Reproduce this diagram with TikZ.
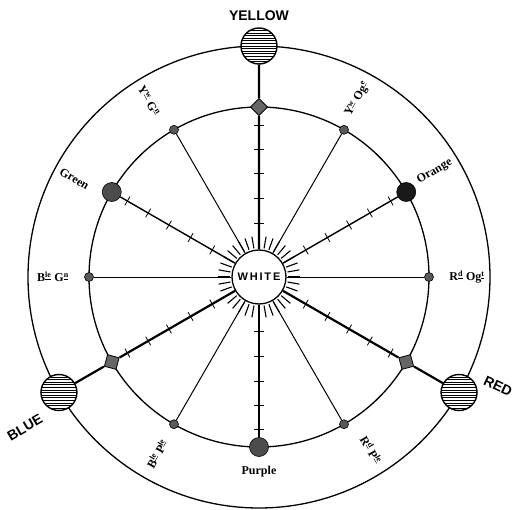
\documentclass[tikz,border=0pt]{standalone}
\usepackage{fontspec}
\newfontfamily\capsfont{Liberation Sans}
\newfontfamily\mixfont{Liberation Serif}
\usetikzlibrary{positioning}
\newcommand\supl[1]{\textsuperscript{\underline{#1}}}

\begin{document}
\begin{tikzpicture}[x=1pt,y=1pt,
  ring/.style={line width=1.3pt},
  spoke/.style={line width=1pt},
  tickspoke/.style={line width=1.4pt},
  mainspoke/.style={line width=2.2pt},
  tickmark/.style={line width=0.8pt},
  ray/.style={line width=1.1pt},
  hatched/.style={circle,draw,line width=1.4pt,fill=white,inner sep=0pt,minimum size=36pt,
    path picture={\foreach \k in {-6,...,6}
      \draw[line width=0.7pt] ([yshift=\k*2.6pt]path picture bounding box.west) -- ([yshift=\k*2.6pt]path picture bounding box.east);}},
  smalldot/.style={circle,draw,line width=0.6pt,fill=black!65,inner sep=0pt,minimum size=9pt},
  bigdot/.style={circle,draw,line width=0.6pt,fill=black!70,inner sep=0pt,minimum size=19pt},
  mixbox/.style={rectangle,draw,line width=0.8pt,fill=black!60,inner sep=0pt,minimum size=12pt},
  huename/.style={font=\capsfont\bfseries\fontsize{14}{14}\selectfont,inner sep=1pt},
  mixname/.style={font=\mixfont\bfseries\fontsize{12}{12}\selectfont,inner sep=1pt}]
\useasboundingbox (-259,-232) rectangle (255,277);

\draw[ring] (0,0) circle (170);
\draw[ring] (0,0) circle (231);
\foreach \a in {0,10,...,350} \draw[ray] (\a:29) -- (\a:41);

\node[circle,draw,line width=1.3pt,fill=white,minimum size=54pt,inner sep=0pt,
  font=\capsfont\bfseries\fontsize{11}{11}\selectfont] (W) at (0,0) {W\,H\,I\,T\,E};

\node[mixbox,rotate=45] (mY) at (90:170) {};
\node[mixbox,rotate=15] (mR) at (-30:170) {};
\node[mixbox,rotate=255] (mB) at (210:170) {};
\node[bigdot,fill=black!90] (Og) at (30:170) {};
\node[bigdot] (Gn) at (150:170) {};
\node[bigdot] (Pl) at (270:170) {};
\foreach \a/\n in {0/RO,60/YO,120/YG,180/BG,240/BP,300/RP}
  \node[smalldot] (\n) at (\a:170) {};

\node[hatched] (Y) at (90:231) {};
\node[hatched] (R) at (-30:231) {};
\node[hatched] (B) at (210:231) {};

\foreach \n in {RO,YO,YG,BG,BP,RP} \draw[spoke] (W) -- (\n);
\foreach \n in {Og,Gn,Pl} \draw[tickspoke] (W) -- (\n);
\foreach \n in {mY,mR,mB} \draw[mainspoke] (W) -- (\n);
\draw[mainspoke] (mY) -- (Y);
\draw[mainspoke] (mR) -- (R);
\draw[mainspoke] (mB) -- (B);

\foreach \a in {90,30,-30,-90,-150,150}
  \foreach \r in {54,79,104,128,152}
    \draw[tickmark,rotate=\a] (\r,-5) -- (\r,5);

\node[huename,above=5pt of Y] (yellowL) {YELLOW};
\node[huename,rotate=-25] (redL) at ([shift={(39,6)}]R.center) {RED};
\node[huename,rotate=30] (blueL) at ([shift={(-34,-35)}]B.center) {BLUE};

\node[mixname,rotate=-60] (ygL) at (122:208) {Y\supl{w} G\supl{n}};
\node[mixname,rotate=60] (yoL) at (61:203) {Y\supl{w} Og\supl{e}};
\node[mixname,rotate=30] (ogL) at (31:205) {Orange};
\node[mixname] (roL) at (0:208) {R\supl{d} Og\supl{t}};
\node[mixname,rotate=-60] (rpL) at (-57:206) {R\supl{d} P\supl{le}};
\node[mixname] (plL) at (270:195) {Purple};
\node[mixname,rotate=60] (bpL) at (240:204) {B\supl{le} P\supl{le}};
\node[mixname] (bgL) at (180:206) {B\supl{le} G\supl{n}};
\node[mixname,rotate=-30] (gnL) at (152:209) {Green};
\end{tikzpicture}
\end{document}
